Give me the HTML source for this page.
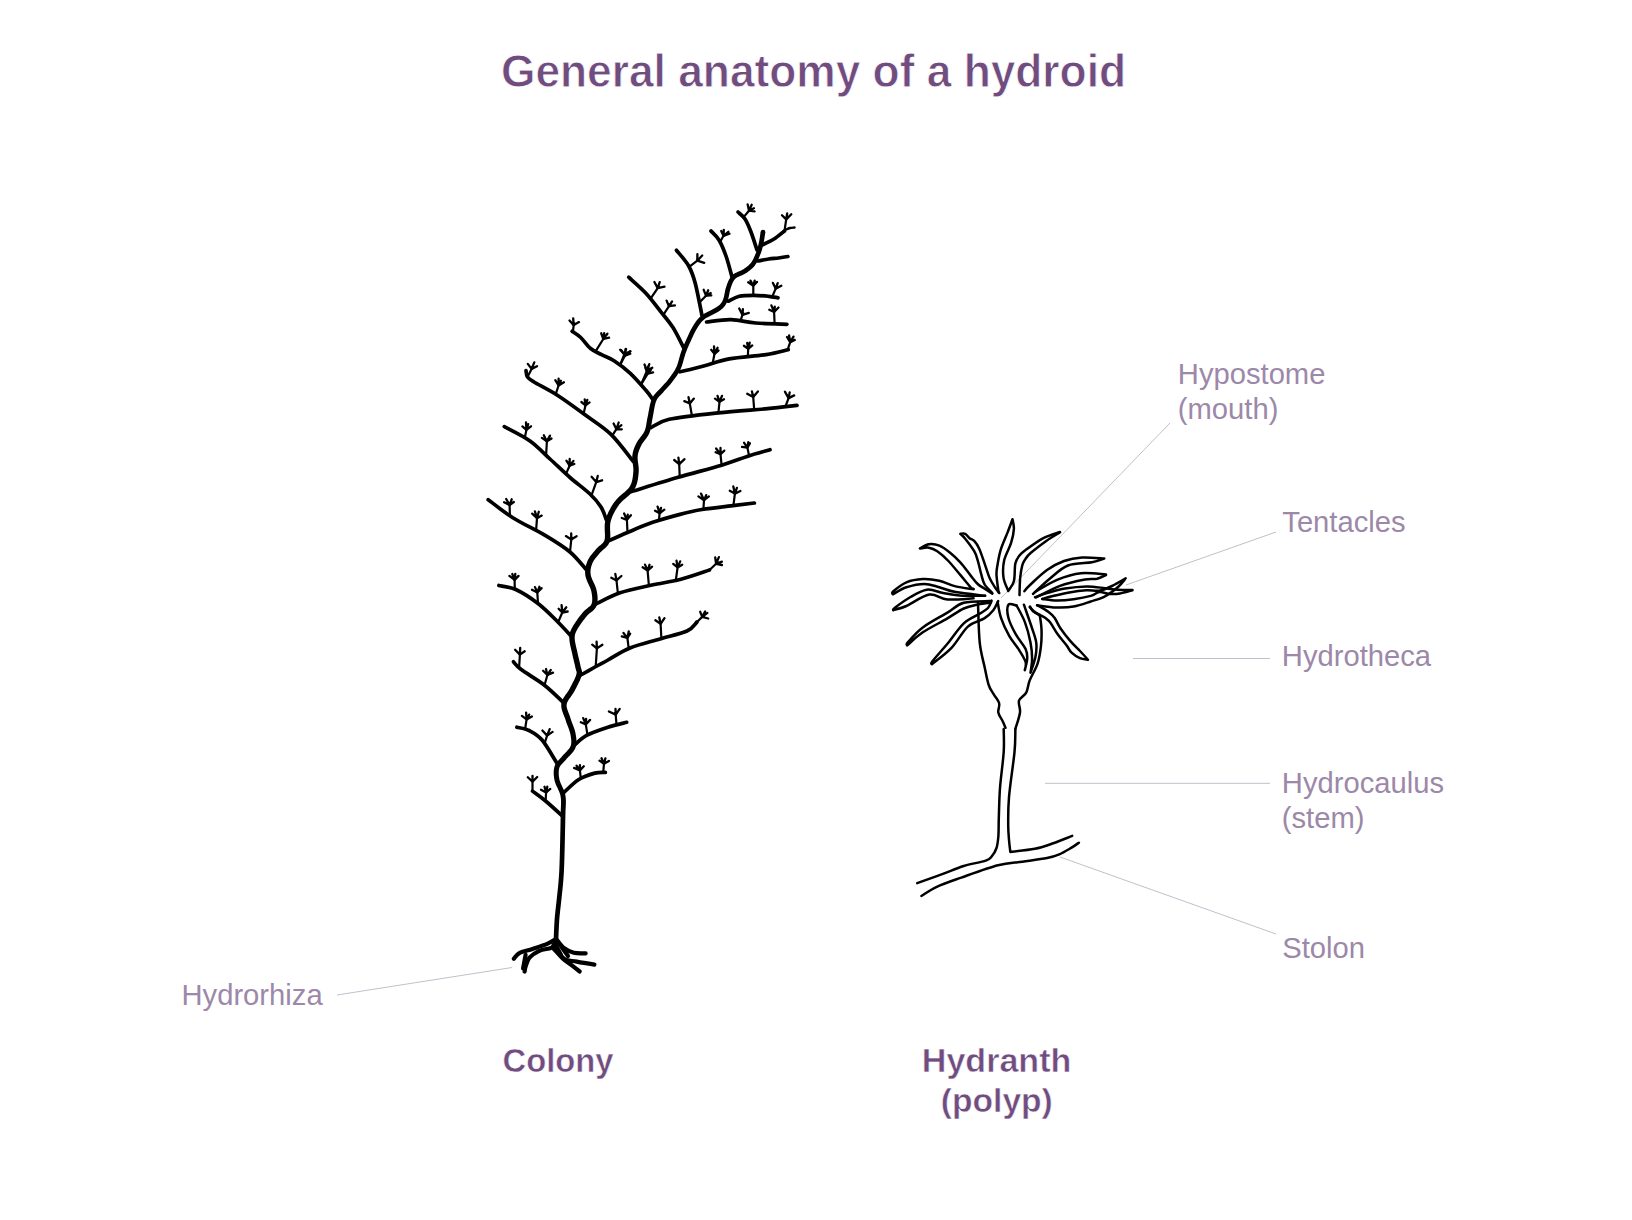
<!DOCTYPE html><html><head><meta charset="utf-8"><style>html,body{margin:0;padding:0;background:#fff;overflow:hidden}svg{display:block}</style></head><body>
<svg width="1632" height="1220" viewBox="0 0 1632 1220">
<rect width="100%" height="100%" fill="#fff"/>
<text x="501" y="87" font-family="Liberation Sans, sans-serif" font-weight="bold" font-size="45.5" fill="#704c7f" stroke="#fff" stroke-width="0.8" textLength="625" lengthAdjust="spacingAndGlyphs">General anatomy of a hydroid</text>
<text x="1177.8" y="383.8" font-family="Liberation Sans, sans-serif" font-size="29.2" fill="#9c88a8">Hypostome</text>
<text x="1177.8" y="418.8" font-family="Liberation Sans, sans-serif" font-size="29.2" fill="#9c88a8">(mouth)</text>
<text x="1282.3" y="531.8" font-family="Liberation Sans, sans-serif" font-size="29.2" fill="#9c88a8">Tentacles</text>
<text x="1281.8" y="666" font-family="Liberation Sans, sans-serif" font-size="29.2" fill="#9c88a8">Hydrotheca</text>
<text x="1281.8" y="792.8" font-family="Liberation Sans, sans-serif" font-size="29.2" fill="#9c88a8">Hydrocaulus</text>
<text x="1281.8" y="828" font-family="Liberation Sans, sans-serif" font-size="29.2" fill="#9c88a8">(stem)</text>
<text x="1282.3" y="957.8" font-family="Liberation Sans, sans-serif" font-size="29.2" fill="#9c88a8">Stolon</text>
<text x="181.5" y="1005" font-family="Liberation Sans, sans-serif" font-size="29.2" fill="#9c88a8">Hydrorhiza</text>
<text x="502.5" y="1072" font-family="Liberation Sans, sans-serif" font-weight="bold" font-size="34" fill="#704c7f" stroke="#fff" stroke-width="0.5" textLength="111" lengthAdjust="spacingAndGlyphs">Colony</text>
<text x="921.8" y="1072" font-family="Liberation Sans, sans-serif" font-weight="bold" font-size="34" fill="#704c7f" stroke="#fff" stroke-width="0.5" textLength="149.5" lengthAdjust="spacingAndGlyphs">Hydranth</text>
<text x="940.8" y="1111.5" font-family="Liberation Sans, sans-serif" font-weight="bold" font-size="34" fill="#704c7f" stroke="#fff" stroke-width="0.5" textLength="112" lengthAdjust="spacingAndGlyphs">(polyp)</text>
<line x1="1170" y1="423" x2="1001" y2="598" stroke="#c6bdcb" stroke-width="1"/>
<line x1="1276" y1="532" x2="1126" y2="585" stroke="#c6bdcb" stroke-width="1"/>
<line x1="1133" y1="658.5" x2="1270" y2="658.5" stroke="#c6bdcb" stroke-width="1"/>
<line x1="1045" y1="783.3" x2="1270" y2="783.3" stroke="#c6bdcb" stroke-width="1"/>
<line x1="1060" y1="857" x2="1276" y2="934" stroke="#c6bdcb" stroke-width="1"/>
<line x1="337" y1="995" x2="512" y2="967.5" stroke="#c6bdcb" stroke-width="1"/>
<path d="M760.68 231.63 L760.58 232.23 L760.47 232.98 L760.34 233.86 L760.19 234.84 L760.04 235.90 L759.87 237.02 L759.69 238.16 L759.50 239.32 L759.30 240.45 L759.10 241.54 L758.91 242.56 L758.71 243.49 L758.50 244.37 L758.30 245.22 L758.09 246.06 L757.88 246.88 L757.66 247.67 L757.43 248.46 L757.20 249.24 L756.95 250.01 L756.69 250.78 L756.42 251.55 L756.13 252.34 L755.81 253.14 L755.48 253.97 L755.14 254.82 L754.79 255.67 L754.43 256.52 L754.07 257.36 L753.69 258.19 L753.29 259.00 L752.89 259.78 L752.47 260.54 L752.04 261.26 L751.59 261.94 L751.13 262.58 L750.64 263.19 L750.12 263.79 L749.57 264.37 L749.00 264.93 L748.41 265.48 L747.79 266.02 L747.16 266.54 L746.50 267.06 L745.82 267.57 L745.13 268.06 L744.42 268.56 L743.72 269.03 L743.03 269.46 L742.29 269.87 L741.48 270.28 L740.62 270.68 L739.73 271.07 L738.82 271.47 L737.90 271.87 L736.99 272.27 L736.10 272.68 L735.24 273.11 L734.42 273.58 L733.66 274.07 L733.01 274.55 L732.44 275.02 L731.93 275.48 L731.46 275.96 L731.04 276.44 L730.67 276.92 L730.33 277.41 L730.02 277.90 L729.74 278.38 L729.47 278.87 L729.21 279.37 L728.92 279.90 L728.61 280.50 L728.31 281.12 L728.03 281.76 L727.75 282.41 L727.49 283.07 L727.23 283.76 L726.98 284.46 L726.73 285.18 L726.49 285.93 L726.25 286.70 L726.00 287.50 L725.74 288.35 L725.48 289.30 L725.24 290.31 L725.02 291.36 L724.82 292.42 L724.61 293.50 L724.40 294.57 L724.19 295.62 L723.96 296.64 L723.71 297.60 L723.45 298.50 L723.17 299.30 L722.86 300.02 L722.52 300.72 L722.18 301.38 L721.85 301.97 L721.52 302.50 L721.19 302.99 L720.83 303.45 L720.43 303.92 L719.97 304.39 L719.44 304.89 L718.83 305.42 L718.12 305.99 L717.32 306.59 L716.42 307.21 L715.36 307.86 L714.14 308.54 L712.80 309.24 L711.37 309.97 L709.90 310.71 L708.40 311.47 L706.91 312.24 L705.45 313.03 L704.06 313.84 L702.75 314.68 L701.56 315.54 L700.53 316.39 L699.60 317.22 L698.75 318.05 L697.97 318.88 L697.25 319.72 L696.58 320.57 L695.95 321.42 L695.35 322.29 L694.76 323.17 L694.19 324.07 L693.61 324.99 L693.00 325.97 L692.36 327.03 L691.72 328.16 L691.09 329.32 L690.48 330.52 L689.87 331.74 L689.28 332.97 L688.71 334.20 L688.14 335.42 L687.60 336.63 L687.07 337.80 L686.56 338.94 L686.06 340.03 L685.59 341.07 L685.13 342.07 L684.70 343.04 L684.28 343.99 L683.87 344.93 L683.47 345.87 L683.08 346.82 L682.69 347.78 L682.30 348.77 L681.90 349.80 L681.50 350.87 L681.08 352.02 L680.66 353.26 L680.26 354.55 L679.87 355.88 L679.50 357.24 L679.12 358.61 L678.75 359.98 L678.37 361.33 L677.97 362.67 L677.56 363.96 L677.12 365.21 L676.66 366.39 L676.17 367.50 L675.64 368.58 L675.06 369.66 L674.44 370.72 L673.78 371.77 L673.11 372.81 L672.41 373.83 L671.70 374.83 L670.98 375.81 L670.25 376.78 L669.53 377.73 L668.82 378.67 L668.13 379.56 L667.48 380.40 L666.84 381.17 L666.20 381.91 L665.55 382.63 L664.90 383.33 L664.25 384.03 L663.59 384.72 L662.92 385.42 L662.24 386.14 L661.56 386.88 L660.86 387.65 L660.19 388.43 L659.54 389.16 L658.89 389.85 L658.19 390.54 L657.47 391.26 L656.73 392.00 L655.97 392.79 L655.21 393.63 L654.46 394.54 L653.72 395.52 L653.02 396.60 L652.35 397.76 L651.75 399.04 L651.21 400.42 L650.73 401.88 L650.30 403.42 L649.92 405.01 L649.56 406.64 L649.24 408.29 L648.93 409.94 L648.64 411.57 L648.36 413.16 L648.08 414.69 L647.80 416.13 L647.51 417.49 L647.23 418.83 L646.98 420.15 L646.77 421.43 L646.58 422.65 L646.39 423.83 L646.21 424.96 L646.01 426.04 L645.80 427.09 L645.56 428.10 L645.29 429.08 L644.97 430.04 L644.60 430.97 L644.17 431.87 L643.66 432.77 L643.07 433.68 L642.42 434.61 L641.72 435.55 L640.97 436.51 L640.21 437.48 L639.44 438.48 L638.68 439.50 L637.94 440.56 L637.24 441.66 L636.63 442.77 L636.11 443.81 L635.62 444.81 L635.16 445.80 L634.71 446.80 L634.29 447.81 L633.90 448.84 L633.54 449.90 L633.21 450.98 L632.93 452.10 L632.68 453.26 L632.47 454.46 L632.31 455.75 L632.23 457.12 L632.24 458.53 L632.32 459.94 L632.47 461.34 L632.64 462.73 L632.82 464.11 L633.01 465.47 L633.17 466.81 L633.29 468.11 L633.37 469.38 L633.38 470.59 L633.31 471.80 L633.19 473.09 L633.06 474.41 L632.93 475.72 L632.77 477.01 L632.58 478.28 L632.35 479.53 L632.08 480.75 L631.75 481.96 L631.36 483.14 L630.89 484.31 L630.34 485.45 L629.71 486.56 L628.97 487.63 L628.06 488.71 L626.99 489.83 L625.77 490.97 L624.46 492.13 L623.06 493.32 L621.63 494.54 L620.17 495.79 L618.74 497.10 L617.34 498.46 L616.02 499.89 L614.84 501.38 L613.79 502.85 L612.80 504.32 L611.85 505.82 L610.93 507.34 L610.05 508.89 L609.22 510.46 L608.44 512.05 L607.71 513.67 L607.03 515.30 L606.42 516.96 L605.87 518.63 L605.38 520.36 L605.00 522.20 L604.77 524.11 L604.68 526.02 L604.67 527.92 L604.72 529.79 L604.80 531.62 L604.88 533.37 L604.93 535.04 L604.93 536.58 L604.85 537.97 L604.69 539.16 L604.43 540.17 L604.08 541.03 L603.66 541.81 L603.15 542.53 L602.57 543.20 L601.91 543.86 L601.18 544.51 L600.38 545.18 L599.52 545.87 L598.62 546.60 L597.70 547.41 L596.79 548.30 L595.95 549.25 L595.21 550.15 L594.48 551.01 L593.73 551.88 L592.97 552.78 L592.21 553.70 L591.45 554.64 L590.70 555.60 L589.97 556.60 L589.28 557.63 L588.63 558.70 L588.04 559.81 L587.52 560.94 L587.08 562.04 L586.68 563.13 L586.31 564.24 L585.98 565.38 L585.70 566.54 L585.47 567.72 L585.28 568.93 L585.16 570.17 L585.10 571.43 L585.10 572.72 L585.18 574.03 L585.33 575.41 L585.61 576.87 L586.04 578.35 L586.56 579.80 L587.15 581.24 L587.78 582.67 L588.43 584.07 L589.07 585.45 L589.68 586.80 L590.23 588.09 L590.71 589.32 L591.09 590.48 L591.36 591.58 L591.58 592.73 L591.78 593.93 L591.96 595.11 L592.09 596.27 L592.19 597.40 L592.24 598.51 L592.24 599.57 L592.20 600.58 L592.10 601.54 L591.95 602.43 L591.74 603.26 L591.50 603.99 L591.21 604.59 L590.86 605.13 L590.41 605.66 L589.86 606.21 L589.21 606.78 L588.46 607.37 L587.64 608.00 L586.74 608.69 L585.80 609.44 L584.84 610.28 L583.87 611.22 L582.95 612.25 L582.08 613.31 L581.19 614.41 L580.27 615.59 L579.33 616.81 L578.38 618.07 L577.44 619.35 L576.52 620.64 L575.62 621.92 L574.78 623.18 L573.99 624.40 L573.27 625.59 L572.64 626.69 L572.10 627.68 L571.63 628.59 L571.19 629.46 L570.79 630.31 L570.43 631.17 L570.12 632.03 L569.86 632.93 L569.65 633.85 L569.49 634.81 L569.38 635.81 L569.32 636.87 L569.30 638.03 L569.35 639.31 L569.47 640.66 L569.66 642.05 L569.90 643.48 L570.18 644.93 L570.49 646.39 L570.81 647.84 L571.15 649.28 L571.48 650.69 L571.80 652.05 L572.10 653.34 L572.36 654.57 L572.62 655.78 L572.89 657.00 L573.17 658.20 L573.45 659.37 L573.73 660.52 L574.00 661.64 L574.27 662.73 L574.52 663.78 L574.76 664.78 L574.98 665.74 L575.18 666.65 L575.36 667.55 L575.56 668.46 L575.78 669.30 L576.01 670.02 L576.22 670.64 L576.39 671.15 L576.51 671.56 L576.60 671.92 L576.64 672.24 L576.66 672.60 L576.63 673.04 L576.55 673.60 L576.39 674.31 L576.13 675.17 L575.78 676.15 L575.35 677.24 L574.83 678.41 L574.26 679.65 L573.64 680.93 L572.98 682.25 L572.30 683.58 L571.61 684.91 L570.92 686.22 L570.25 687.51 L569.62 688.72 L569.01 689.82 L568.33 690.90 L567.58 692.00 L566.77 693.13 L565.94 694.28 L565.10 695.46 L564.27 696.67 L563.49 697.93 L562.77 699.24 L562.14 700.63 L561.65 702.09 L561.34 703.63 L561.22 705.17 L561.29 706.68 L561.50 708.15 L561.81 709.58 L562.21 710.97 L562.67 712.33 L563.16 713.65 L563.67 714.94 L564.17 716.20 L564.65 717.42 L565.09 718.61 L565.48 719.81 L565.89 721.09 L566.34 722.40 L566.82 723.71 L567.31 725.01 L567.81 726.29 L568.29 727.55 L568.75 728.79 L569.19 730.00 L569.58 731.18 L569.93 732.32 L570.21 733.41 L570.44 734.49 L570.64 735.60 L570.82 736.71 L570.99 737.79 L571.12 738.84 L571.22 739.86 L571.29 740.85 L571.30 741.80 L571.27 742.72 L571.19 743.60 L571.05 744.46 L570.85 745.29 L570.60 746.07 L570.27 746.83 L569.82 747.61 L569.27 748.42 L568.61 749.26 L567.87 750.12 L567.07 751.00 L566.23 751.88 L565.36 752.77 L564.49 753.66 L563.63 754.56 L562.80 755.48 L562.05 756.36 L561.41 757.14 L560.77 757.84 L560.12 758.54 L559.44 759.23 L558.76 759.93 L558.07 760.66 L557.39 761.43 L556.73 762.24 L556.10 763.12 L555.53 764.08 L555.02 765.12 L554.61 766.21 L554.29 767.32 L554.05 768.44 L553.88 769.57 L553.76 770.73 L553.70 771.90 L553.68 773.09 L553.72 774.29 L553.81 775.51 L553.94 776.74 L554.11 777.98 L554.32 779.24 L554.58 780.54 L554.93 781.92 L555.40 783.30 L555.94 784.65 L556.53 785.98 L557.15 787.30 L557.77 788.61 L558.38 789.91 L558.96 791.21 L559.48 792.51 L559.94 793.81 L560.32 795.10 L560.60 796.43 L560.80 797.76 L560.93 799.03 L561.02 800.27 L561.05 801.51 L561.05 802.80 L561.02 804.17 L560.96 805.65 L560.89 807.29 L560.81 809.11 L560.73 811.14 L560.66 813.42 L560.61 815.95 L560.57 818.86 L560.52 822.18 L560.46 825.83 L560.39 829.73 L560.30 833.80 L560.21 837.95 L560.12 842.10 L560.02 846.17 L559.92 850.07 L559.83 853.71 L559.74 857.03 L559.65 859.93 L559.57 862.43 L559.50 864.64 L559.43 866.60 L559.36 868.35 L559.29 869.93 L559.22 871.38 L559.14 872.75 L559.06 874.08 L558.98 875.40 L558.88 876.78 L558.77 878.24 L558.66 879.82 L558.53 881.48 L558.38 883.14 L558.23 884.80 L558.07 886.47 L557.90 888.14 L557.73 889.82 L557.55 891.49 L557.37 893.15 L557.19 894.82 L557.01 896.47 L556.83 898.12 L556.66 899.76 L556.49 901.36 L556.32 902.95 L556.14 904.53 L555.96 906.10 L555.78 907.67 L555.60 909.24 L555.43 910.81 L555.26 912.38 L555.09 913.97 L554.94 915.57 L554.79 917.18 L554.66 918.82 L554.53 920.54 L554.42 922.37 L554.31 924.27 L554.21 926.22 L554.11 928.17 L554.03 930.08 L553.95 931.93 L553.87 933.68 L553.81 935.29 L553.75 936.71 L553.70 937.93 L553.65 938.89 L558.35 939.11 L558.39 938.13 L558.45 936.91 L558.50 935.48 L558.57 933.88 L558.64 932.13 L558.72 930.29 L558.81 928.39 L558.90 926.45 L559.00 924.53 L559.11 922.65 L559.22 920.85 L559.34 919.18 L559.47 917.59 L559.62 916.01 L559.77 914.44 L559.93 912.88 L560.10 911.32 L560.27 909.76 L560.45 908.20 L560.63 906.64 L560.81 905.06 L560.99 903.47 L561.17 901.87 L561.34 900.24 L561.51 898.61 L561.68 896.98 L561.86 895.32 L562.04 893.66 L562.22 891.99 L562.40 890.31 L562.58 888.62 L562.75 886.94 L562.91 885.24 L563.07 883.55 L563.21 881.86 L563.34 880.18 L563.46 878.58 L563.57 877.11 L563.67 875.72 L563.75 874.37 L563.83 873.02 L563.91 871.62 L563.98 870.14 L564.05 868.54 L564.12 866.78 L564.19 864.80 L564.27 862.58 L564.35 860.07 L564.44 857.16 L564.53 853.84 L564.62 850.18 L564.72 846.28 L564.82 842.21 L564.91 838.05 L565.00 833.90 L565.09 829.83 L565.18 825.92 L565.26 822.27 L565.33 818.94 L565.39 816.05 L565.45 813.54 L565.53 811.32 L565.61 809.32 L565.70 807.52 L565.79 805.87 L565.86 804.33 L565.90 802.87 L565.91 801.45 L565.87 800.04 L565.78 798.62 L565.63 797.14 L565.40 795.57 L565.07 793.93 L564.61 792.33 L564.08 790.79 L563.49 789.30 L562.86 787.88 L562.23 786.51 L561.61 785.20 L561.03 783.94 L560.50 782.74 L560.05 781.59 L559.69 780.51 L559.42 779.46 L559.22 778.36 L559.04 777.24 L558.89 776.15 L558.78 775.08 L558.72 774.05 L558.69 773.04 L558.70 772.07 L558.76 771.13 L558.86 770.23 L559.00 769.36 L559.18 768.54 L559.39 767.79 L559.65 767.12 L559.95 766.51 L560.32 765.91 L560.75 765.31 L561.24 764.71 L561.80 764.09 L562.41 763.45 L563.07 762.77 L563.77 762.06 L564.50 761.29 L565.24 760.47 L565.95 759.64 L566.62 758.84 L567.35 758.05 L568.15 757.21 L569.01 756.34 L569.90 755.44 L570.80 754.50 L571.70 753.53 L572.57 752.51 L573.41 751.45 L574.17 750.34 L574.85 749.16 L575.40 747.93 L575.81 746.70 L576.11 745.49 L576.31 744.27 L576.43 743.06 L576.48 741.85 L576.46 740.65 L576.40 739.46 L576.28 738.27 L576.14 737.08 L575.96 735.90 L575.77 734.72 L575.56 733.51 L575.30 732.23 L574.96 730.91 L574.58 729.60 L574.15 728.30 L573.69 727.00 L573.21 725.70 L572.72 724.41 L572.24 723.14 L571.77 721.88 L571.32 720.64 L570.91 719.43 L570.52 718.19 L570.10 716.88 L569.62 715.56 L569.12 714.26 L568.63 712.99 L568.15 711.75 L567.70 710.55 L567.32 709.39 L567.00 708.27 L566.77 707.21 L566.63 706.20 L566.60 705.26 L566.66 704.37 L566.85 703.51 L567.16 702.61 L567.59 701.66 L568.14 700.66 L568.79 699.62 L569.53 698.54 L570.32 697.43 L571.15 696.28 L572.00 695.09 L572.84 693.86 L573.65 692.58 L574.38 691.28 L575.04 690.01 L575.71 688.73 L576.40 687.40 L577.10 686.05 L577.80 684.68 L578.49 683.32 L579.14 681.96 L579.76 680.63 L580.33 679.33 L580.83 678.07 L581.27 676.85 L581.61 675.69 L581.86 674.61 L582.00 673.60 L582.06 672.65 L582.02 671.76 L581.91 670.93 L581.74 670.19 L581.54 669.52 L581.34 668.92 L581.15 668.35 L580.97 667.79 L580.80 667.18 L580.64 666.45 L580.46 665.55 L580.25 664.57 L580.02 663.56 L579.77 662.52 L579.52 661.45 L579.25 660.36 L578.97 659.24 L578.70 658.11 L578.43 656.96 L578.16 655.80 L577.89 654.63 L577.64 653.43 L577.37 652.17 L577.06 650.83 L576.74 649.45 L576.41 648.05 L576.08 646.64 L575.76 645.24 L575.47 643.86 L575.21 642.52 L575.00 641.24 L574.84 640.05 L574.73 638.96 L574.70 637.97 L574.72 637.07 L574.76 636.25 L574.84 635.53 L574.95 634.89 L575.08 634.29 L575.25 633.72 L575.47 633.13 L575.73 632.50 L576.05 631.82 L576.43 631.07 L576.87 630.22 L577.36 629.31 L577.92 628.33 L578.56 627.28 L579.29 626.15 L580.08 624.97 L580.93 623.76 L581.81 622.53 L582.72 621.29 L583.63 620.08 L584.54 618.90 L585.43 617.77 L586.28 616.70 L587.05 615.75 L587.76 614.96 L588.49 614.26 L589.26 613.59 L590.07 612.94 L590.92 612.29 L591.79 611.63 L592.67 610.93 L593.54 610.16 L594.40 609.31 L595.21 608.33 L595.93 607.23 L596.50 606.01 L596.93 604.77 L597.23 603.53 L597.45 602.26 L597.58 600.98 L597.64 599.68 L597.64 598.37 L597.58 597.05 L597.46 595.73 L597.31 594.41 L597.12 593.09 L596.90 591.77 L596.64 590.42 L596.28 588.98 L595.80 587.51 L595.23 586.05 L594.62 584.61 L593.97 583.19 L593.32 581.80 L592.70 580.44 L592.11 579.13 L591.60 577.87 L591.18 576.69 L590.86 575.60 L590.67 574.59 L590.56 573.58 L590.50 572.55 L590.50 571.55 L590.54 570.57 L590.64 569.60 L590.78 568.65 L590.97 567.71 L591.20 566.77 L591.47 565.83 L591.78 564.90 L592.12 563.97 L592.48 563.06 L592.87 562.21 L593.32 561.38 L593.83 560.54 L594.40 559.70 L595.02 558.84 L595.68 557.99 L596.38 557.13 L597.10 556.26 L597.85 555.38 L598.60 554.50 L599.35 553.60 L600.05 552.75 L600.69 552.03 L601.36 551.38 L602.11 550.72 L602.92 550.06 L603.79 549.36 L604.70 548.61 L605.62 547.79 L606.54 546.87 L607.42 545.83 L608.25 544.66 L608.97 543.33 L609.57 541.83 L609.99 540.19 L610.22 538.48 L610.32 536.73 L610.33 534.96 L610.28 533.17 L610.20 531.38 L610.12 529.60 L610.07 527.85 L610.07 526.16 L610.15 524.56 L610.33 523.06 L610.62 521.64 L611.03 520.21 L611.52 518.74 L612.06 517.27 L612.66 515.81 L613.32 514.36 L614.03 512.91 L614.79 511.48 L615.59 510.07 L616.43 508.67 L617.32 507.29 L618.23 505.92 L619.16 504.62 L620.13 503.40 L621.22 502.22 L622.44 501.03 L623.75 499.84 L625.14 498.64 L626.56 497.43 L628.00 496.21 L629.41 494.96 L630.78 493.67 L632.07 492.33 L633.26 490.92 L634.29 489.44 L635.13 487.95 L635.83 486.48 L636.43 485.00 L636.92 483.52 L637.32 482.06 L637.65 480.60 L637.91 479.16 L638.12 477.73 L638.29 476.33 L638.44 474.95 L638.57 473.59 L638.69 472.20 L638.78 470.72 L638.76 469.20 L638.68 467.70 L638.54 466.23 L638.36 464.79 L638.18 463.39 L637.99 462.04 L637.83 460.74 L637.71 459.50 L637.63 458.34 L637.62 457.27 L637.69 456.25 L637.82 455.26 L637.98 454.28 L638.18 453.33 L638.42 452.42 L638.68 451.54 L638.98 450.66 L639.30 449.78 L639.66 448.91 L640.05 448.01 L640.47 447.10 L640.91 446.16 L641.37 445.23 L641.84 444.35 L642.38 443.49 L642.99 442.59 L643.67 441.67 L644.40 440.72 L645.15 439.74 L645.92 438.73 L646.69 437.68 L647.44 436.60 L648.16 435.46 L648.82 434.27 L649.40 433.03 L649.87 431.79 L650.27 430.58 L650.59 429.37 L650.86 428.17 L651.09 426.98 L651.29 425.79 L651.47 424.61 L651.65 423.42 L651.82 422.23 L652.02 421.02 L652.23 419.80 L652.49 418.51 L652.77 417.10 L653.05 415.59 L653.32 414.03 L653.58 412.43 L653.86 410.82 L654.14 409.21 L654.44 407.63 L654.75 406.10 L655.09 404.64 L655.45 403.28 L655.84 402.05 L656.25 400.96 L656.70 400.00 L657.19 399.12 L657.72 398.31 L658.28 397.54 L658.89 396.80 L659.53 396.08 L660.20 395.38 L660.90 394.67 L661.62 393.94 L662.35 393.19 L663.10 392.39 L663.81 391.57 L664.47 390.81 L665.10 390.09 L665.74 389.39 L666.39 388.69 L667.05 387.99 L667.71 387.29 L668.39 386.56 L669.07 385.81 L669.76 385.03 L670.46 384.21 L671.17 383.34 L671.87 382.44 L672.56 381.52 L673.28 380.58 L674.01 379.61 L674.76 378.61 L675.51 377.58 L676.27 376.51 L677.01 375.42 L677.75 374.30 L678.46 373.14 L679.15 371.96 L679.81 370.75 L680.43 369.50 L681.00 368.19 L681.53 366.84 L682.01 365.45 L682.46 364.05 L682.88 362.64 L683.28 361.24 L683.66 359.85 L684.03 358.49 L684.40 357.17 L684.76 355.90 L685.13 354.71 L685.52 353.58 L685.91 352.50 L686.30 351.46 L686.68 350.47 L687.05 349.52 L687.43 348.60 L687.80 347.69 L688.19 346.79 L688.58 345.88 L688.99 344.95 L689.42 344.00 L689.87 343.01 L690.34 341.97 L690.84 340.88 L691.35 339.74 L691.88 338.57 L692.42 337.38 L692.97 336.18 L693.53 334.98 L694.10 333.80 L694.67 332.64 L695.25 331.51 L695.83 330.43 L696.41 329.40 L697.00 328.43 L697.59 327.49 L698.16 326.58 L698.71 325.73 L699.24 324.92 L699.77 324.15 L700.31 323.42 L700.87 322.71 L701.47 322.02 L702.11 321.34 L702.81 320.65 L703.59 319.96 L704.44 319.26 L705.39 318.57 L706.50 317.86 L707.75 317.13 L709.11 316.39 L710.54 315.65 L712.01 314.90 L713.49 314.16 L714.96 313.42 L716.37 312.67 L717.72 311.92 L718.97 311.17 L720.08 310.41 L721.01 309.69 L721.84 309.03 L722.59 308.38 L723.27 307.74 L723.89 307.09 L724.46 306.43 L724.98 305.76 L725.46 305.07 L725.90 304.35 L726.32 303.61 L726.72 302.83 L727.14 301.98 L727.56 300.99 L727.93 299.93 L728.25 298.84 L728.53 297.73 L728.78 296.61 L729.01 295.49 L729.22 294.39 L729.43 293.32 L729.63 292.29 L729.83 291.33 L730.04 290.45 L730.26 289.65 L730.49 288.87 L730.73 288.10 L730.96 287.37 L731.19 286.67 L731.42 286.00 L731.64 285.37 L731.87 284.76 L732.10 284.19 L732.33 283.64 L732.57 283.11 L732.82 282.60 L733.08 282.10 L733.35 281.59 L733.60 281.11 L733.84 280.69 L734.05 280.32 L734.26 280.00 L734.46 279.70 L734.67 279.42 L734.91 279.15 L735.18 278.88 L735.51 278.58 L735.90 278.26 L736.34 277.93 L736.84 277.60 L737.44 277.27 L738.15 276.91 L738.93 276.55 L739.79 276.17 L740.68 275.78 L741.62 275.38 L742.57 274.95 L743.52 274.51 L744.47 274.03 L745.41 273.51 L746.28 272.97 L747.07 272.44 L747.84 271.90 L748.60 271.36 L749.35 270.79 L750.10 270.21 L750.83 269.61 L751.55 268.98 L752.25 268.33 L752.94 267.65 L753.61 266.94 L754.25 266.20 L754.87 265.42 L755.46 264.61 L756.02 263.76 L756.54 262.88 L757.04 262.00 L757.50 261.10 L757.94 260.19 L758.36 259.28 L758.75 258.37 L759.13 257.47 L759.49 256.59 L759.84 255.72 L760.19 254.86 L760.52 254.01 L760.84 253.16 L761.14 252.31 L761.42 251.47 L761.69 250.63 L761.94 249.79 L762.18 248.94 L762.42 248.09 L762.64 247.22 L762.86 246.34 L763.08 245.44 L763.29 244.51 L763.51 243.50 L763.72 242.41 L763.93 241.27 L764.13 240.09 L764.33 238.91 L764.51 237.73 L764.68 236.60 L764.84 235.53 L764.99 234.55 L765.12 233.68 L765.23 232.95 L765.32 232.37Z" fill="#000"/>
<circle cx="763.0" cy="232.0" r="2.35"/>
<circle cx="556.0" cy="939.0" r="2.35"/>
<path d="M738.0 212.0C739.2 213.2 742.8 215.7 745.0 219.0C747.2 222.3 749.0 226.8 751.0 232.0C753.0 237.2 756.0 247.0 757.0 250.0" fill="none" stroke="#000" stroke-width="3.7" stroke-linecap="round" stroke-linejoin="round"/>
<path d="M711.0 231.0C712.3 232.5 716.5 235.8 719.0 240.0C721.5 244.2 723.8 249.8 726.0 256.0C728.2 262.2 731.0 273.5 732.0 277.0" fill="none" stroke="#000" stroke-width="3.7" stroke-linecap="round" stroke-linejoin="round"/>
<path d="M676.5 250.3C678.5 252.9 685.6 260.5 688.7 266.0C691.8 271.5 693.1 275.2 695.3 283.5C697.5 291.8 700.9 310.2 702.0 315.6" fill="none" stroke="#000" stroke-width="3.7" stroke-linecap="round" stroke-linejoin="round"/>
<path d="M628.7 277.2C631.6 279.9 640.6 287.5 645.9 293.2C651.2 298.9 656.2 305.9 660.7 311.6C665.2 317.3 669.1 321.5 673.0 327.6C676.9 333.8 682.2 345.0 684.0 348.5" fill="none" stroke="#000" stroke-width="3.7" stroke-linecap="round" stroke-linejoin="round"/>
<path d="M572.1 331.3C573.5 332.3 577.6 334.6 580.7 337.5C583.8 340.4 587.1 345.6 590.6 348.5C594.1 351.4 597.7 352.6 601.6 354.7C605.5 356.8 609.3 357.7 614.0 360.8C618.7 363.9 624.7 368.2 630.0 373.1C635.3 378.0 642.0 385.8 645.9 390.3C649.8 394.8 652.1 398.6 653.3 400.2" fill="none" stroke="#000" stroke-width="3.7" stroke-linecap="round" stroke-linejoin="round"/>
<path d="M526.0 370.5C526.2 371.6 526.2 375.1 527.5 377.0C528.8 378.9 529.1 379.0 534.0 382.0C538.9 385.0 548.5 389.5 557.0 395.0C565.5 400.5 576.0 408.2 585.0 414.8C594.0 421.4 603.0 426.6 611.0 434.4C619.0 442.2 629.6 457.0 633.3 461.5" fill="none" stroke="#000" stroke-width="3.7" stroke-linecap="round" stroke-linejoin="round"/>
<path d="M504.3 426.7C508.6 429.1 522.4 435.6 530.0 441.0C537.6 446.4 543.3 452.9 550.0 459.0C556.7 465.1 563.3 471.7 570.0 477.5C576.7 483.3 584.8 489.1 590.0 494.0C595.2 498.9 598.3 502.7 601.0 507.0C603.7 511.3 605.5 517.7 606.4 519.8" fill="none" stroke="#000" stroke-width="3.7" stroke-linecap="round" stroke-linejoin="round"/>
<path d="M488.2 499.7C492.3 502.7 503.2 511.7 512.8 517.7C522.4 523.7 536.1 530.0 545.6 535.7C555.1 541.4 563.2 546.3 570.0 552.0C576.8 557.7 583.8 567.0 586.6 570.0" fill="none" stroke="#000" stroke-width="3.7" stroke-linecap="round" stroke-linejoin="round"/>
<path d="M498.9 585.5C501.7 586.2 509.3 586.5 515.8 589.5C522.3 592.5 531.2 598.3 538.0 603.5C544.8 608.7 550.8 615.0 556.4 620.5C562.0 626.0 569.0 633.8 571.5 636.5" fill="none" stroke="#000" stroke-width="3.7" stroke-linecap="round" stroke-linejoin="round"/>
<path d="M513.4 661.8C514.7 663.1 516.0 665.7 521.2 669.6C526.4 673.5 537.5 679.8 544.5 685.2C551.5 690.7 560.1 699.4 563.2 702.3" fill="none" stroke="#000" stroke-width="3.7" stroke-linecap="round" stroke-linejoin="round"/>
<path d="M516.9 727.2C519.0 727.8 525.0 728.3 529.2 730.5C533.4 732.7 537.7 734.8 542.3 740.3C546.9 745.8 554.5 759.5 557.0 763.3" fill="none" stroke="#000" stroke-width="3.7" stroke-linecap="round" stroke-linejoin="round"/>
<path d="M532.5 791.1C534.7 792.8 540.7 796.9 545.6 801.0C550.5 805.1 559.3 813.2 562.0 815.7" fill="none" stroke="#000" stroke-width="3.7" stroke-linecap="round" stroke-linejoin="round"/>
<path d="M762.0 245.0C763.9 244.1 769.9 241.6 773.6 239.3C777.4 237.0 782.7 232.4 784.5 231.0" fill="none" stroke="#000" stroke-width="3.7" stroke-linecap="round" stroke-linejoin="round"/>
<path d="M758.0 261.0C759.8 260.7 765.3 259.5 768.7 259.0C772.1 258.5 775.3 258.4 778.5 258.0C781.7 257.6 786.3 256.8 787.9 256.5" fill="none" stroke="#000" stroke-width="3.7" stroke-linecap="round" stroke-linejoin="round"/>
<path d="M728.4 301.2C730.2 300.4 734.9 297.3 739.2 296.3C743.5 295.3 749.1 295.3 754.0 295.3C758.9 295.3 764.7 295.9 768.7 296.3C772.7 296.7 776.5 297.6 778.0 297.8" fill="none" stroke="#000" stroke-width="3.7" stroke-linecap="round" stroke-linejoin="round"/>
<path d="M706.6 322.0C710.7 321.6 722.8 319.5 731.0 319.7C739.2 319.9 746.4 322.2 755.7 323.0C765.0 323.8 781.7 324.1 786.9 324.3" fill="none" stroke="#000" stroke-width="3.7" stroke-linecap="round" stroke-linejoin="round"/>
<path d="M680.0 371.8C684.1 370.8 696.4 367.9 704.6 365.7C712.8 363.5 719.0 360.8 729.2 358.9C739.5 357.0 756.3 356.1 766.1 354.6C775.9 353.1 784.5 350.5 788.2 349.7" fill="none" stroke="#000" stroke-width="3.7" stroke-linecap="round" stroke-linejoin="round"/>
<path d="M651.0 427.5C654.0 426.1 658.0 421.8 669.2 419.3C680.4 416.9 702.0 414.6 718.4 412.8C734.8 411.0 754.4 409.9 767.5 408.7C780.6 407.5 792.1 405.9 797.0 405.4" fill="none" stroke="#000" stroke-width="3.7" stroke-linecap="round" stroke-linejoin="round"/>
<path d="M631.5 491.5C639.1 489.2 662.4 481.9 677.4 477.5C692.4 473.1 709.9 468.8 721.6 465.2C733.4 461.6 739.8 458.8 747.9 456.2C756.0 453.6 766.3 450.8 770.0 449.7" fill="none" stroke="#000" stroke-width="3.7" stroke-linecap="round" stroke-linejoin="round"/>
<path d="M608.0 541.0C611.2 539.6 620.2 535.6 627.5 532.5C634.8 529.4 643.2 525.6 652.0 522.6C660.8 519.6 671.7 516.6 680.0 514.4C688.3 512.2 692.9 511.0 702.0 509.5C711.1 508.0 726.1 506.5 734.8 505.4C743.5 504.3 751.1 503.4 754.4 503.0" fill="none" stroke="#000" stroke-width="3.7" stroke-linecap="round" stroke-linejoin="round"/>
<path d="M594.8 604.6C598.9 602.7 609.8 596.3 619.3 593.0C628.8 589.7 641.9 587.2 652.0 585.0C662.1 582.8 670.4 582.0 680.0 579.5C689.6 577.0 704.6 571.6 709.5 570.0" fill="none" stroke="#000" stroke-width="3.7" stroke-linecap="round" stroke-linejoin="round"/>
<path d="M579.0 676.0C581.7 674.5 590.2 669.7 595.0 667.0C599.8 664.3 602.2 663.2 608.0 660.0C613.8 656.8 621.3 651.5 630.0 648.0C638.7 644.5 650.5 641.8 660.0 639.0C669.5 636.2 680.8 633.8 687.0 631.0C693.2 628.2 695.3 623.5 697.0 622.0" fill="none" stroke="#000" stroke-width="3.7" stroke-linecap="round" stroke-linejoin="round"/>
<path d="M574.3 745.2C576.3 743.6 581.0 738.4 586.6 735.4C592.2 732.4 601.2 729.4 607.9 727.2C614.6 725.0 623.6 723.1 626.7 722.3" fill="none" stroke="#000" stroke-width="3.7" stroke-linecap="round" stroke-linejoin="round"/>
<path d="M563.6 792.8C566.1 790.6 573.2 783.0 578.4 779.7C583.6 776.4 590.3 774.3 594.8 773.1C599.3 771.9 603.6 772.4 605.4 772.3" fill="none" stroke="#000" stroke-width="3.7" stroke-linecap="round" stroke-linejoin="round"/>
<path d="M785.0 230.0C785.8 229.7 788.4 228.4 790.0 228.0C791.6 227.6 793.8 227.6 794.5 227.5" fill="none" stroke="#000" stroke-width="2.4" stroke-linecap="round" stroke-linejoin="round"/>
<path d="M556.0 939.0C554.5 939.8 551.1 942.2 547.2 943.9C543.3 945.5 537.1 947.4 532.5 948.9C527.9 950.4 522.8 951.2 519.7 952.8C516.6 954.4 514.8 957.7 513.8 958.7" fill="none" stroke="#000" stroke-width="4.2" stroke-linecap="round" stroke-linejoin="round"/>
<path d="M554.0 944.0C553.5 944.6 553.6 946.8 551.1 947.9C548.6 949.0 542.9 949.2 539.3 950.8C535.7 952.4 531.8 955.1 529.5 957.7C527.2 960.3 526.4 964.3 525.6 966.6C524.8 968.9 524.8 970.7 524.6 971.5" fill="none" stroke="#000" stroke-width="4.2" stroke-linecap="round" stroke-linejoin="round"/>
<path d="M525.6 954.8L523.1 968.5" fill="none" stroke="#000" stroke-width="4.2" stroke-linecap="round" stroke-linejoin="round"/>
<path d="M557.0 940.0C558.1 941.3 561.1 945.8 563.9 947.9C566.7 950.0 570.2 951.9 573.8 952.8C577.4 953.7 583.6 953.2 585.6 953.3" fill="none" stroke="#000" stroke-width="4.2" stroke-linecap="round" stroke-linejoin="round"/>
<path d="M555.0 946.0C556.5 948.1 560.3 956.1 563.9 958.7C567.5 961.3 571.6 960.6 576.7 961.6C581.8 962.6 591.5 964.1 594.4 964.6" fill="none" stroke="#000" stroke-width="4.2" stroke-linecap="round" stroke-linejoin="round"/>
<path d="M553.1 948.0C554.8 949.8 560.0 955.9 563.0 958.7C566.0 961.5 568.0 962.5 570.8 964.6C573.6 966.7 578.2 970.4 579.7 971.5" fill="none" stroke="#000" stroke-width="4.2" stroke-linecap="round" stroke-linejoin="round"/>
<path d="M554.0 942.0L561.0 955.0" fill="none" stroke="#000" stroke-width="4.2" stroke-linecap="round" stroke-linejoin="round"/>
<path d="M558.0 942.0L568.0 956.0" fill="none" stroke="#000" stroke-width="4.2" stroke-linecap="round" stroke-linejoin="round"/>
<path d="M743.6 217.1L749.0 210.7" stroke="#000" stroke-width="2.2" stroke-linecap="round" fill="none"/>
<path d="M749.0 210.7l-1.4 -6.4M749.0 210.7l2.7 -6.0M749.0 210.7l4.9 -2.5M749.0 210.7l5.6 0.6" stroke="#000" stroke-width="2.3" stroke-linecap="round" fill="none"/>
<circle cx="749.8" cy="209.8" r="1.8"/>
<path d="M720.1 242.0L723.5 235.8" stroke="#000" stroke-width="2.2" stroke-linecap="round" fill="none"/>
<path d="M723.5 235.8l-2.3 -4.8M723.5 235.8l0.3 -5.9M723.5 235.8l4.8 -4.0M723.5 235.8l6.0 -2.2" stroke="#000" stroke-width="2.3" stroke-linecap="round" fill="none"/>
<circle cx="724.1" cy="234.8" r="1.8"/>
<path d="M753.3 295.3L753.3 285.7" stroke="#000" stroke-width="2.2" stroke-linecap="round" fill="none"/>
<path d="M753.3 285.7l-5.1 -3.4M753.3 285.7l-2.8 -5.1M753.3 285.7l1.4 -5.1M753.3 285.7l3.7 -3.8" stroke="#000" stroke-width="2.3" stroke-linecap="round" fill="none"/>
<circle cx="753.3" cy="284.5" r="1.8"/>
<path d="M772.2 296.8L775.7 288.6" stroke="#000" stroke-width="2.2" stroke-linecap="round" fill="none"/>
<path d="M775.7 288.6l-2.8 -5.7M775.7 288.6l2.0 -5.4M775.7 288.6l5.6 -2.8" stroke="#000" stroke-width="2.3" stroke-linecap="round" fill="none"/>
<circle cx="776.2" cy="287.5" r="1.8"/>
<path d="M689.2 266.8L697.3 260.7" stroke="#000" stroke-width="2.2" stroke-linecap="round" fill="none"/>
<path d="M697.3 260.7l0.1 -6.6M697.3 260.7l4.9 -5.2M697.3 260.7l6.9 2.2" stroke="#000" stroke-width="2.3" stroke-linecap="round" fill="none"/>
<circle cx="698.2" cy="260.0" r="1.8"/>
<path d="M699.4 302.5L706.0 295.7" stroke="#000" stroke-width="2.2" stroke-linecap="round" fill="none"/>
<path d="M706.0 295.7l-2.3 -5.9M706.0 295.7l2.2 -5.4M706.0 295.7l4.7 -2.7M706.0 295.7l5.3 -0.4" stroke="#000" stroke-width="2.3" stroke-linecap="round" fill="none"/>
<circle cx="706.9" cy="294.8" r="1.8"/>
<path d="M740.5 320.7L742.5 314.9" stroke="#000" stroke-width="2.2" stroke-linecap="round" fill="none"/>
<path d="M742.5 314.9l-3.3 -6.4M742.5 314.9l0.4 -5.8M742.5 314.9l6.3 -2.0" stroke="#000" stroke-width="2.3" stroke-linecap="round" fill="none"/>
<circle cx="742.9" cy="313.8" r="1.8"/>
<path d="M774.6 323.9L774.1 312.0" stroke="#000" stroke-width="2.2" stroke-linecap="round" fill="none"/>
<path d="M774.1 312.0l-4.8 -2.3M774.1 312.0l-2.7 -6.6M774.1 312.0l0.7 -5.3M774.1 312.0l4.4 -4.5" stroke="#000" stroke-width="2.3" stroke-linecap="round" fill="none"/>
<circle cx="774.0" cy="310.8" r="1.8"/>
<path d="M650.6 298.6L657.7 288.1" stroke="#000" stroke-width="2.2" stroke-linecap="round" fill="none"/>
<path d="M657.7 288.1l-3.3 -6.1M657.7 288.1l2.0 -5.9M657.7 288.1l6.8 -1.4" stroke="#000" stroke-width="2.3" stroke-linecap="round" fill="none"/>
<circle cx="658.3" cy="287.1" r="1.8"/>
<path d="M663.3 314.9L669.0 306.2" stroke="#000" stroke-width="2.2" stroke-linecap="round" fill="none"/>
<path d="M669.0 306.2l-2.4 -5.6M669.0 306.2l3.1 -4.8M669.0 306.2l5.9 -0.9" stroke="#000" stroke-width="2.3" stroke-linecap="round" fill="none"/>
<circle cx="669.7" cy="305.2" r="1.8"/>
<path d="M712.7 363.3L714.5 353.8" stroke="#000" stroke-width="2.2" stroke-linecap="round" fill="none"/>
<path d="M714.5 353.8l-3.3 -4.0M714.5 353.8l-0.5 -7.4M714.5 353.8l3.1 -6.0M714.5 353.8l4.0 -3.3" stroke="#000" stroke-width="2.3" stroke-linecap="round" fill="none"/>
<circle cx="714.7" cy="352.7" r="1.8"/>
<path d="M747.8 356.6L748.2 348.9" stroke="#000" stroke-width="2.2" stroke-linecap="round" fill="none"/>
<path d="M748.2 348.9l-4.3 -3.1M748.2 348.9l-1.0 -6.1M748.2 348.9l1.5 -6.2M748.2 348.9l4.1 -3.5" stroke="#000" stroke-width="2.3" stroke-linecap="round" fill="none"/>
<circle cx="748.3" cy="347.7" r="1.8"/>
<path d="M620.1 365.0L624.3 354.3" stroke="#000" stroke-width="2.2" stroke-linecap="round" fill="none"/>
<path d="M624.3 354.3l-4.2 -4.5M624.3 354.3l1.8 -5.2M624.3 354.3l6.1 -3.1" stroke="#000" stroke-width="2.3" stroke-linecap="round" fill="none"/>
<circle cx="624.7" cy="353.2" r="1.8"/>
<path d="M641.0 384.6L647.0 370.6" stroke="#000" stroke-width="2.2" stroke-linecap="round" fill="none"/>
<path d="M647.0 370.6l-2.5 -6.1M647.0 370.6l2.3 -6.5M647.0 370.6l5.3 -2.8" stroke="#000" stroke-width="2.3" stroke-linecap="round" fill="none"/>
<circle cx="647.5" cy="369.5" r="1.8"/>
<path d="M572.9 331.8L573.7 325.1" stroke="#000" stroke-width="2.2" stroke-linecap="round" fill="none"/>
<path d="M573.7 325.1l-4.2 -4.6M573.7 325.1l-0.5 -6.7M573.7 325.1l5.3 -3.0" stroke="#000" stroke-width="2.3" stroke-linecap="round" fill="none"/>
<circle cx="573.8" cy="323.9" r="1.8"/>
<path d="M595.4 351.6L603.3 339.0" stroke="#000" stroke-width="2.2" stroke-linecap="round" fill="none"/>
<path d="M603.3 339.0l-2.1 -5.7M603.3 339.0l0.9 -5.9M603.3 339.0l4.1 -5.3M603.3 339.0l5.8 -1.3" stroke="#000" stroke-width="2.3" stroke-linecap="round" fill="none"/>
<circle cx="603.9" cy="338.0" r="1.8"/>
<path d="M620.1 365.0L625.0 355.6" stroke="#000" stroke-width="2.2" stroke-linecap="round" fill="none"/>
<path d="M625.0 355.6l-3.7 -5.4M625.0 355.6l0.6 -6.6M625.0 355.6l5.2 -4.2M625.0 355.6l5.3 -1.9" stroke="#000" stroke-width="2.3" stroke-linecap="round" fill="none"/>
<circle cx="625.6" cy="354.6" r="1.8"/>
<path d="M641.0 384.6L647.7 373.6" stroke="#000" stroke-width="2.2" stroke-linecap="round" fill="none"/>
<path d="M647.7 373.6l-2.3 -5.7M647.7 373.6l0.6 -7.3M647.7 373.6l3.4 -4.0M647.7 373.6l5.4 -1.3" stroke="#000" stroke-width="2.3" stroke-linecap="round" fill="none"/>
<circle cx="648.3" cy="372.5" r="1.8"/>
<path d="M527.5 377.0L531.6 368.9" stroke="#000" stroke-width="2.2" stroke-linecap="round" fill="none"/>
<path d="M531.6 368.9l-3.8 -5.0M531.6 368.9l2.7 -6.5M531.6 368.9l5.4 -2.7" stroke="#000" stroke-width="2.3" stroke-linecap="round" fill="none"/>
<circle cx="532.1" cy="367.8" r="1.8"/>
<path d="M555.7 394.2L558.6 385.5" stroke="#000" stroke-width="2.2" stroke-linecap="round" fill="none"/>
<path d="M558.6 385.5l-3.3 -5.3M558.6 385.5l0.0 -6.8M558.6 385.5l2.3 -4.7M558.6 385.5l5.3 -3.2" stroke="#000" stroke-width="2.3" stroke-linecap="round" fill="none"/>
<circle cx="559.0" cy="384.3" r="1.8"/>
<path d="M583.6 413.8L585.5 405.3" stroke="#000" stroke-width="2.2" stroke-linecap="round" fill="none"/>
<path d="M585.5 405.3l-4.1 -3.3M585.5 405.3l-0.8 -5.9M585.5 405.3l1.8 -5.4M585.5 405.3l4.1 -2.9" stroke="#000" stroke-width="2.3" stroke-linecap="round" fill="none"/>
<circle cx="585.7" cy="404.1" r="1.8"/>
<path d="M612.2 435.6L616.4 429.2" stroke="#000" stroke-width="2.2" stroke-linecap="round" fill="none"/>
<path d="M616.4 429.2l-2.8 -5.7M616.4 429.2l2.3 -6.7M616.4 429.2l5.0 -4.0M616.4 429.2l5.4 0.1" stroke="#000" stroke-width="2.3" stroke-linecap="round" fill="none"/>
<circle cx="617.0" cy="428.2" r="1.8"/>
<path d="M524.8 437.7L526.4 429.9" stroke="#000" stroke-width="2.2" stroke-linecap="round" fill="none"/>
<path d="M526.4 429.9l-4.0 -3.5M526.4 429.9l-0.4 -7.4M526.4 429.9l1.8 -5.7M526.4 429.9l4.6 -3.6" stroke="#000" stroke-width="2.3" stroke-linecap="round" fill="none"/>
<circle cx="526.6" cy="428.8" r="1.8"/>
<path d="M546.1 455.3L546.9 441.4" stroke="#000" stroke-width="2.2" stroke-linecap="round" fill="none"/>
<path d="M546.9 441.4l-5.0 -3.5M546.9 441.4l-3.1 -6.1M546.9 441.4l3.1 -5.8M546.9 441.4l4.6 -2.9" stroke="#000" stroke-width="2.3" stroke-linecap="round" fill="none"/>
<circle cx="547.0" cy="440.2" r="1.8"/>
<path d="M566.0 473.9L569.6 465.7" stroke="#000" stroke-width="2.2" stroke-linecap="round" fill="none"/>
<path d="M569.6 465.7l-3.2 -5.0M569.6 465.7l0.1 -6.7M569.6 465.7l3.8 -4.7M569.6 465.7l4.7 -1.7" stroke="#000" stroke-width="2.3" stroke-linecap="round" fill="none"/>
<circle cx="570.1" cy="464.6" r="1.8"/>
<path d="M591.5 495.4L596.2 482.1" stroke="#000" stroke-width="2.2" stroke-linecap="round" fill="none"/>
<path d="M596.2 482.1l-4.6 -5.3M596.2 482.1l1.6 -6.3M596.2 482.1l5.9 -1.8" stroke="#000" stroke-width="2.3" stroke-linecap="round" fill="none"/>
<circle cx="596.6" cy="481.0" r="1.8"/>
<path d="M691.9 415.8L689.8 403.4" stroke="#000" stroke-width="2.2" stroke-linecap="round" fill="none"/>
<path d="M689.8 403.4l-5.5 -2.3M689.8 403.4l-1.3 -6.2M689.8 403.4l4.1 -4.8" stroke="#000" stroke-width="2.3" stroke-linecap="round" fill="none"/>
<circle cx="689.6" cy="402.2" r="1.8"/>
<path d="M718.4 412.8L719.5 401.8" stroke="#000" stroke-width="2.2" stroke-linecap="round" fill="none"/>
<path d="M719.5 401.8l-4.5 -3.2M719.5 401.8l-2.0 -5.9M719.5 401.8l2.5 -5.9M719.5 401.8l4.5 -2.5" stroke="#000" stroke-width="2.3" stroke-linecap="round" fill="none"/>
<circle cx="719.6" cy="400.6" r="1.8"/>
<path d="M754.2 409.8L753.2 396.9" stroke="#000" stroke-width="2.2" stroke-linecap="round" fill="none"/>
<path d="M753.2 396.9l-6.0 -3.2M753.2 396.9l-1.3 -5.6M753.2 396.9l4.7 -5.5" stroke="#000" stroke-width="2.3" stroke-linecap="round" fill="none"/>
<circle cx="753.1" cy="395.7" r="1.8"/>
<path d="M785.3 406.8L788.6 398.1" stroke="#000" stroke-width="2.2" stroke-linecap="round" fill="none"/>
<path d="M788.6 398.1l-3.7 -6.4M788.6 398.1l1.1 -5.7M788.6 398.1l5.6 -2.7" stroke="#000" stroke-width="2.3" stroke-linecap="round" fill="none"/>
<circle cx="789.0" cy="397.0" r="1.8"/>
<path d="M679.7 476.8L679.2 464.1" stroke="#000" stroke-width="2.2" stroke-linecap="round" fill="none"/>
<path d="M679.2 464.1l-5.0 -4.1M679.2 464.1l-0.8 -6.5M679.2 464.1l5.3 -4.9" stroke="#000" stroke-width="2.3" stroke-linecap="round" fill="none"/>
<circle cx="679.2" cy="462.9" r="1.8"/>
<path d="M721.6 465.2L720.5 454.3" stroke="#000" stroke-width="2.2" stroke-linecap="round" fill="none"/>
<path d="M720.5 454.3l-4.9 -2.1M720.5 454.3l-4.4 -5.8M720.5 454.3l0.0 -6.3M720.5 454.3l3.8 -3.7" stroke="#000" stroke-width="2.3" stroke-linecap="round" fill="none"/>
<circle cx="720.4" cy="453.1" r="1.8"/>
<path d="M749.1 455.8L747.4 447.6" stroke="#000" stroke-width="2.2" stroke-linecap="round" fill="none"/>
<path d="M747.4 447.6l-5.4 -0.8M747.4 447.6l-3.3 -4.8M747.4 447.6l0.9 -5.5M747.4 447.6l2.5 -4.3" stroke="#000" stroke-width="2.3" stroke-linecap="round" fill="none"/>
<circle cx="747.1" cy="446.4" r="1.8"/>
<path d="M627.5 532.5L626.9 519.8" stroke="#000" stroke-width="2.2" stroke-linecap="round" fill="none"/>
<path d="M626.9 519.8l-5.1 -1.8M626.9 519.8l-2.8 -6.3M626.9 519.8l0.9 -5.2M626.9 519.8l4.0 -4.6" stroke="#000" stroke-width="2.3" stroke-linecap="round" fill="none"/>
<circle cx="626.8" cy="518.6" r="1.8"/>
<path d="M658.9 520.4L659.6 513.3" stroke="#000" stroke-width="2.2" stroke-linecap="round" fill="none"/>
<path d="M659.6 513.3l-4.5 -2.6M659.6 513.3l-2.0 -6.7M659.6 513.3l1.4 -5.4M659.6 513.3l4.7 -3.6" stroke="#000" stroke-width="2.3" stroke-linecap="round" fill="none"/>
<circle cx="659.8" cy="512.1" r="1.8"/>
<path d="M703.4 509.3L704.0 500.2" stroke="#000" stroke-width="2.2" stroke-linecap="round" fill="none"/>
<path d="M704.0 500.2l-5.6 -3.8M704.0 500.2l-3.0 -6.6M704.0 500.2l2.2 -5.1M704.0 500.2l4.9 -3.8" stroke="#000" stroke-width="2.3" stroke-linecap="round" fill="none"/>
<circle cx="704.1" cy="499.0" r="1.8"/>
<path d="M733.4 505.6L734.9 493.6" stroke="#000" stroke-width="2.2" stroke-linecap="round" fill="none"/>
<path d="M734.9 493.6l-5.1 -2.9M734.9 493.6l-1.6 -7.2M734.9 493.6l2.0 -5.7M734.9 493.6l5.5 -2.6" stroke="#000" stroke-width="2.3" stroke-linecap="round" fill="none"/>
<circle cx="735.1" cy="492.4" r="1.8"/>
<path d="M509.9 515.8L509.6 505.1" stroke="#000" stroke-width="2.2" stroke-linecap="round" fill="none"/>
<path d="M509.6 505.1l-5.5 -2.9M509.6 505.1l-3.4 -6.1M509.6 505.1l2.1 -5.8M509.6 505.1l4.2 -3.1" stroke="#000" stroke-width="2.3" stroke-linecap="round" fill="none"/>
<circle cx="509.6" cy="503.9" r="1.8"/>
<path d="M536.1 530.4L537.0 518.2" stroke="#000" stroke-width="2.2" stroke-linecap="round" fill="none"/>
<path d="M537.0 518.2l-4.8 -4.6M537.0 518.2l-2.1 -6.8M537.0 518.2l1.8 -6.4M537.0 518.2l4.7 -2.6" stroke="#000" stroke-width="2.3" stroke-linecap="round" fill="none"/>
<circle cx="537.1" cy="517.0" r="1.8"/>
<path d="M570.0 552.0L571.3 539.4" stroke="#000" stroke-width="2.2" stroke-linecap="round" fill="none"/>
<path d="M571.3 539.4l-5.4 -3.3M571.3 539.4l-0.1 -5.9M571.3 539.4l5.3 -3.2" stroke="#000" stroke-width="2.3" stroke-linecap="round" fill="none"/>
<circle cx="571.4" cy="538.2" r="1.8"/>
<path d="M617.9 593.5L616.5 580.4" stroke="#000" stroke-width="2.2" stroke-linecap="round" fill="none"/>
<path d="M616.5 580.4l-5.2 -2.7M616.5 580.4l-1.2 -6.5M616.5 580.4l4.9 -4.4" stroke="#000" stroke-width="2.3" stroke-linecap="round" fill="none"/>
<circle cx="616.4" cy="579.2" r="1.8"/>
<path d="M648.9 585.7L647.6 570.6" stroke="#000" stroke-width="2.2" stroke-linecap="round" fill="none"/>
<path d="M647.6 570.6l-5.0 -3.3M647.6 570.6l-2.6 -6.0M647.6 570.6l1.9 -5.8M647.6 570.6l4.5 -3.9" stroke="#000" stroke-width="2.3" stroke-linecap="round" fill="none"/>
<circle cx="647.5" cy="569.4" r="1.8"/>
<path d="M675.8 580.5L677.6 567.4" stroke="#000" stroke-width="2.2" stroke-linecap="round" fill="none"/>
<path d="M677.6 567.4l-4.4 -3.5M677.6 567.4l-1.1 -6.8M677.6 567.4l2.6 -6.0M677.6 567.4l4.6 -2.7" stroke="#000" stroke-width="2.3" stroke-linecap="round" fill="none"/>
<circle cx="677.8" cy="566.2" r="1.8"/>
<path d="M514.8 589.1L514.6 579.9" stroke="#000" stroke-width="2.2" stroke-linecap="round" fill="none"/>
<path d="M514.6 579.9l-5.2 -4.0M514.6 579.9l-2.3 -5.9M514.6 579.9l0.7 -6.0M514.6 579.9l3.9 -4.0" stroke="#000" stroke-width="2.3" stroke-linecap="round" fill="none"/>
<circle cx="514.6" cy="578.7" r="1.8"/>
<path d="M538.0 603.5L537.3 592.4" stroke="#000" stroke-width="2.2" stroke-linecap="round" fill="none"/>
<path d="M537.3 592.4l-5.3 -2.7M537.3 592.4l-2.3 -5.3M537.3 592.4l2.1 -5.6M537.3 592.4l4.3 -4.3" stroke="#000" stroke-width="2.3" stroke-linecap="round" fill="none"/>
<circle cx="537.3" cy="591.2" r="1.8"/>
<path d="M558.1 622.2L562.3 612.5" stroke="#000" stroke-width="2.2" stroke-linecap="round" fill="none"/>
<path d="M562.3 612.5l-3.7 -3.8M562.3 612.5l-0.7 -7.3M562.3 612.5l4.0 -5.2M562.3 612.5l5.4 -1.0" stroke="#000" stroke-width="2.3" stroke-linecap="round" fill="none"/>
<circle cx="562.8" cy="611.4" r="1.8"/>
<path d="M595.7 666.6L596.9 648.4" stroke="#000" stroke-width="2.2" stroke-linecap="round" fill="none"/>
<path d="M596.9 648.4l-4.7 -3.7M596.9 648.4l-0.3 -6.8M596.9 648.4l5.5 -3.6" stroke="#000" stroke-width="2.3" stroke-linecap="round" fill="none"/>
<circle cx="596.9" cy="647.2" r="1.8"/>
<path d="M628.7 648.5L627.4 637.9" stroke="#000" stroke-width="2.2" stroke-linecap="round" fill="none"/>
<path d="M627.4 637.9l-5.6 -1.5M627.4 637.9l-3.9 -4.9M627.4 637.9l1.4 -6.6M627.4 637.9l2.8 -4.3" stroke="#000" stroke-width="2.3" stroke-linecap="round" fill="none"/>
<circle cx="627.2" cy="636.7" r="1.8"/>
<path d="M661.4 638.6L660.6 623.9" stroke="#000" stroke-width="2.2" stroke-linecap="round" fill="none"/>
<path d="M660.6 623.9l-5.2 -3.7M660.6 623.9l-1.3 -6.4M660.6 623.9l3.9 -5.8" stroke="#000" stroke-width="2.3" stroke-linecap="round" fill="none"/>
<circle cx="660.5" cy="622.7" r="1.8"/>
<path d="M519.1 667.9L519.9 654.6" stroke="#000" stroke-width="2.2" stroke-linecap="round" fill="none"/>
<path d="M519.9 654.6l-4.8 -4.9M519.9 654.6l0.3 -6.6M519.9 654.6l4.8 -3.3" stroke="#000" stroke-width="2.3" stroke-linecap="round" fill="none"/>
<circle cx="520.0" cy="653.4" r="1.8"/>
<path d="M544.5 685.2L547.4 675.0" stroke="#000" stroke-width="2.2" stroke-linecap="round" fill="none"/>
<path d="M547.4 675.0l-4.3 -4.2M547.4 675.0l-1.4 -6.0M547.4 675.0l3.4 -5.1M547.4 675.0l5.6 -2.4" stroke="#000" stroke-width="2.3" stroke-linecap="round" fill="none"/>
<circle cx="547.7" cy="673.9" r="1.8"/>
<path d="M587.5 734.9L585.8 724.4" stroke="#000" stroke-width="2.2" stroke-linecap="round" fill="none"/>
<path d="M585.8 724.4l-5.0 -2.1M585.8 724.4l-2.6 -6.3M585.8 724.4l0.3 -5.5M585.8 724.4l4.3 -4.5" stroke="#000" stroke-width="2.3" stroke-linecap="round" fill="none"/>
<circle cx="585.6" cy="723.2" r="1.8"/>
<path d="M616.5 724.8L615.7 714.6" stroke="#000" stroke-width="2.2" stroke-linecap="round" fill="none"/>
<path d="M615.7 714.6l-6.8 -3.1M615.7 714.6l-0.2 -5.7M615.7 714.6l4.0 -5.7" stroke="#000" stroke-width="2.3" stroke-linecap="round" fill="none"/>
<circle cx="615.6" cy="713.4" r="1.8"/>
<path d="M525.1 728.9L526.6 719.4" stroke="#000" stroke-width="2.2" stroke-linecap="round" fill="none"/>
<path d="M526.6 719.4l-4.7 -3.5M526.6 719.4l-0.5 -6.7M526.6 719.4l2.6 -4.8M526.6 719.4l5.3 -2.9" stroke="#000" stroke-width="2.3" stroke-linecap="round" fill="none"/>
<circle cx="526.8" cy="718.2" r="1.8"/>
<path d="M544.6 743.3L547.1 735.6" stroke="#000" stroke-width="2.2" stroke-linecap="round" fill="none"/>
<path d="M547.1 735.6l-4.7 -5.1M547.1 735.6l2.6 -6.5M547.1 735.6l5.5 -3.7" stroke="#000" stroke-width="2.3" stroke-linecap="round" fill="none"/>
<circle cx="547.5" cy="734.5" r="1.8"/>
<path d="M580.8 778.3L579.9 770.4" stroke="#000" stroke-width="2.2" stroke-linecap="round" fill="none"/>
<path d="M579.9 770.4l-5.8 -2.5M579.9 770.4l-3.4 -4.8M579.9 770.4l0.0 -5.3M579.9 770.4l3.9 -4.1" stroke="#000" stroke-width="2.3" stroke-linecap="round" fill="none"/>
<circle cx="579.7" cy="769.2" r="1.8"/>
<path d="M603.2 772.3L604.0 763.8" stroke="#000" stroke-width="2.2" stroke-linecap="round" fill="none"/>
<path d="M604.0 763.8l-4.5 -3.2M604.0 763.8l-2.5 -5.6M604.0 763.8l1.4 -5.5M604.0 763.8l4.9 -2.9" stroke="#000" stroke-width="2.3" stroke-linecap="round" fill="none"/>
<circle cx="604.2" cy="762.6" r="1.8"/>
<path d="M532.5 791.1L532.5 781.8" stroke="#000" stroke-width="2.2" stroke-linecap="round" fill="none"/>
<path d="M532.5 781.8l-4.7 -4.6M532.5 781.8l0.0 -6.0M532.5 781.8l4.7 -4.8" stroke="#000" stroke-width="2.3" stroke-linecap="round" fill="none"/>
<circle cx="532.5" cy="780.6" r="1.8"/>
<path d="M545.6 801.0L546.1 792.4" stroke="#000" stroke-width="2.2" stroke-linecap="round" fill="none"/>
<path d="M546.1 792.4l-5.1 -2.7M546.1 792.4l-1.6 -5.6M546.1 792.4l1.2 -5.7M546.1 792.4l4.2 -3.5" stroke="#000" stroke-width="2.3" stroke-linecap="round" fill="none"/>
<circle cx="546.2" cy="791.2" r="1.8"/>
<path d="M784.5 231.0L786.2 219.4" stroke="#000" stroke-width="2.2" stroke-linecap="round" fill="none"/>
<path d="M786.2 219.4l-4.2 -4.2M786.2 219.4l1.0 -5.9M786.2 219.4l5.1 -5.1" stroke="#000" stroke-width="2.3" stroke-linecap="round" fill="none"/>
<circle cx="786.4" cy="218.2" r="1.8"/>
<path d="M787.6 349.8L790.2 342.1" stroke="#000" stroke-width="2.2" stroke-linecap="round" fill="none"/>
<path d="M790.2 342.1l-3.2 -5.1M790.2 342.1l-1.1 -6.7M790.2 342.1l3.3 -5.5M790.2 342.1l4.6 -2.2" stroke="#000" stroke-width="2.3" stroke-linecap="round" fill="none"/>
<circle cx="790.6" cy="341.0" r="1.8"/>
<path d="M709.5 570.0L716.1 563.8" stroke="#000" stroke-width="2.2" stroke-linecap="round" fill="none"/>
<path d="M716.1 563.8l-0.9 -6.4M716.1 563.8l2.8 -6.7M716.1 563.8l5.8 -2.2M716.1 563.8l5.9 1.2" stroke="#000" stroke-width="2.3" stroke-linecap="round" fill="none"/>
<circle cx="716.9" cy="562.9" r="1.8"/>
<path d="M696.5 622.5L702.2 616.9" stroke="#000" stroke-width="2.2" stroke-linecap="round" fill="none"/>
<path d="M702.2 616.9l-2.0 -5.1M702.2 616.9l3.0 -5.5M702.2 616.9l5.2 -4.0M702.2 616.9l6.0 1.6" stroke="#000" stroke-width="2.3" stroke-linecap="round" fill="none"/>
<circle cx="703.0" cy="616.0" r="1.8"/>
<path d="M992.3 593.7C991.0 592.9 987.1 590.4 984.7 588.8C982.3 587.2 980.0 586.2 977.7 584.0C975.4 581.8 973.6 579.2 970.7 575.6C967.8 572.0 963.8 566.2 960.3 562.4C956.8 558.6 953.3 555.4 949.8 552.6C946.3 549.8 942.9 547.1 939.4 545.7C935.9 544.3 932.1 543.8 928.9 544.3C925.6 544.8 921.4 547.7 919.9 548.4L919.9 548.4C921.4 548.3 926.0 547.2 928.9 547.7C931.8 548.2 934.0 549.0 937.3 551.2C940.5 553.4 944.6 557.0 948.4 561.0C952.2 565.0 956.6 570.5 960.3 574.9C964.0 579.3 968.5 585.1 970.7 587.4C972.9 589.7 973.0 588.6 973.5 588.8" fill="none" stroke="#000" stroke-width="2.5" stroke-linecap="round" stroke-linejoin="round"/>
<path d="M992.3 593.0C991.0 591.6 986.6 587.8 984.7 584.7C982.9 581.6 982.4 578.3 981.2 574.2C980.0 570.1 978.9 564.1 977.7 560.3C976.5 556.5 976.3 554.8 974.2 551.2C972.1 547.6 967.5 541.6 965.2 538.7C962.9 535.8 961.1 534.6 960.3 533.8L960.3 533.8C961.1 533.8 963.7 533.1 965.2 533.8C966.7 534.5 967.8 536.8 969.3 538.0C970.8 539.2 972.6 539.1 974.2 540.8C975.8 542.5 977.4 544.6 979.1 548.4C980.9 552.2 983.0 558.9 984.7 563.8C986.4 568.7 987.8 573.8 989.5 577.7C991.2 581.7 993.5 585.0 995.1 587.5C996.7 590.0 998.6 592.1 999.3 593.0" fill="none" stroke="#000" stroke-width="2.5" stroke-linecap="round" stroke-linejoin="round"/>
<path d="M998.6 592.3C998.2 589.4 996.7 579.5 996.5 575.0C996.3 570.5 996.8 569.2 997.5 565.0C998.2 560.8 999.0 555.2 1000.7 549.8C1002.4 544.4 1005.6 537.5 1007.6 532.4C1009.6 527.3 1011.7 521.4 1012.5 519.2L1012.5 519.2C1012.7 520.8 1014.1 525.0 1013.9 528.9C1013.7 532.8 1012.7 537.7 1011.1 542.9C1009.5 548.1 1005.5 554.5 1004.2 560.3C1002.9 566.1 1002.8 572.6 1003.5 577.7C1004.2 582.8 1007.5 588.8 1008.3 591.0L1008.3 591.0C1009.2 589.4 1012.7 585.7 1013.9 581.2C1015.1 576.7 1014.4 568.1 1015.3 563.8C1016.2 559.5 1017.9 557.6 1019.5 555.4C1021.1 553.2 1021.1 553.4 1025.0 550.5C1028.9 547.6 1037.1 541.4 1042.9 538.3C1048.7 535.2 1057.2 533.0 1060.0 532.0" fill="none" stroke="#000" stroke-width="2.5" stroke-linecap="round" stroke-linejoin="round"/>
<path d="M1060.0 532.3C1057.8 533.7 1051.5 537.2 1046.6 540.7C1041.7 544.2 1034.2 549.9 1030.6 553.0C1027.0 556.1 1026.4 557.6 1025.0 559.6C1023.6 561.6 1023.1 562.2 1022.3 565.2C1021.5 568.2 1020.7 572.7 1020.2 577.7C1019.7 582.7 1019.6 592.2 1019.5 595.1" fill="none" stroke="#000" stroke-width="2.5" stroke-linecap="round" stroke-linejoin="round"/>
<path d="M1024.4 591.2C1025.3 590.2 1026.2 588.5 1030.0 585.0C1033.8 581.5 1041.3 574.0 1047.0 570.0C1052.7 566.0 1058.2 563.1 1064.0 561.0C1069.8 558.9 1075.3 557.9 1082.0 557.5C1088.7 557.1 1100.6 558.3 1104.3 558.5L1104.3 558.6C1102.2 559.2 1098.0 561.1 1092.0 562.3C1086.0 563.4 1075.0 562.8 1068.0 565.5C1061.0 568.2 1055.8 573.8 1050.0 578.5C1044.2 583.2 1035.8 591.4 1033.0 594.0" fill="none" stroke="#000" stroke-width="2.5" stroke-linecap="round" stroke-linejoin="round"/>
<path d="M1035.0 592.0C1038.7 590.0 1049.3 582.9 1057.0 579.8C1064.7 576.7 1072.8 574.1 1081.0 573.2C1089.2 572.3 1101.8 574.3 1106.0 574.5L1106.0 575.0C1104.5 575.6 1100.5 578.0 1097.0 578.8C1093.5 579.5 1091.2 578.3 1085.0 579.5C1078.8 580.7 1068.2 582.8 1060.0 585.8C1051.8 588.8 1040.0 595.5 1036.0 597.5" fill="none" stroke="#000" stroke-width="2.5" stroke-linecap="round" stroke-linejoin="round"/>
<path d="M1035.0 597.2C1037.2 596.5 1042.9 594.3 1047.9 592.9C1052.9 591.5 1058.6 589.7 1065.0 588.6C1071.4 587.5 1079.8 586.5 1086.5 586.4C1093.2 586.3 1099.8 587.6 1105.0 588.2C1110.2 588.8 1113.4 589.5 1118.0 589.8C1122.6 590.1 1130.1 590.0 1132.5 590.1L1132.5 590.3C1130.4 590.8 1123.8 592.9 1120.0 593.5C1116.2 594.1 1113.5 594.2 1110.0 594.0C1106.5 593.8 1102.5 591.7 1099.3 592.0C1096.1 592.3 1095.1 594.7 1090.8 595.9C1086.5 597.1 1079.3 598.5 1073.6 599.3C1067.9 600.1 1061.7 600.7 1056.5 600.6C1051.3 600.5 1044.7 599.2 1042.3 598.9" fill="none" stroke="#000" stroke-width="2.5" stroke-linecap="round" stroke-linejoin="round"/>
<path d="M1042.3 598.9C1043.9 598.5 1047.5 597.4 1052.0 596.3C1056.5 595.2 1063.5 593.4 1069.3 592.4C1075.0 591.4 1081.5 590.6 1086.5 590.3C1091.5 590.0 1095.0 591.4 1099.3 590.7C1103.5 590.0 1107.6 588.1 1112.0 586.0C1116.4 583.9 1123.4 579.6 1125.7 578.3L1125.7 578.3C1124.4 579.8 1121.5 584.0 1118.0 587.0C1114.5 590.0 1109.5 593.9 1105.0 596.3C1100.5 598.7 1096.0 599.8 1090.8 601.5C1085.6 603.2 1079.3 605.6 1073.6 606.6C1067.9 607.6 1062.6 607.7 1056.5 607.5C1050.4 607.3 1040.2 605.7 1037.0 605.3" fill="none" stroke="#000" stroke-width="2.5" stroke-linecap="round" stroke-linejoin="round"/>
<path d="M973.6 589.3C970.6 588.8 961.3 587.8 955.6 586.4C949.9 585.0 944.7 581.9 939.2 580.7C933.7 579.5 928.3 578.7 922.8 579.0C917.3 579.3 911.3 580.2 906.4 582.3C901.5 584.3 895.6 589.3 893.3 591.3C891.0 593.3 892.9 593.8 892.8 594.3L892.8 594.3C895.1 593.1 901.1 588.9 906.4 587.2C911.7 585.5 918.9 583.9 924.4 583.9C929.9 583.9 934.0 585.8 939.2 587.2C944.4 588.6 948.0 590.7 955.6 592.1C963.2 593.5 980.2 595.2 985.1 595.8" fill="none" stroke="#000" stroke-width="2.5" stroke-linecap="round" stroke-linejoin="round"/>
<path d="M985.1 595.8C980.9 595.7 966.7 595.9 959.7 595.4C952.7 594.9 948.8 594.0 943.3 593.0C937.8 592.0 932.4 589.0 926.9 589.7C921.4 590.4 915.8 594.0 910.5 597.0C905.2 600.0 897.8 605.5 894.9 607.7C892.0 609.9 893.6 609.8 893.3 610.2L893.3 610.2C895.5 609.5 900.4 608.6 906.4 606.0C912.4 603.4 922.5 595.7 929.3 594.6C936.1 593.5 940.0 598.9 947.4 599.5C954.8 600.1 969.2 598.5 973.6 598.3" fill="none" stroke="#000" stroke-width="2.5" stroke-linecap="round" stroke-linejoin="round"/>
<path d="M990.0 601.1C985.6 601.4 970.9 600.9 963.8 602.8C956.7 604.7 954.2 608.5 947.4 612.6C940.6 616.7 929.4 622.5 922.8 627.4C916.2 632.3 910.6 639.1 908.0 642.1C905.4 645.1 907.3 644.9 907.2 645.4L907.2 645.4C909.8 643.2 916.1 636.8 922.8 632.3C929.5 627.8 940.6 622.4 947.4 618.4C954.2 614.4 958.7 610.8 963.8 608.5C968.9 606.2 973.5 605.5 978.0 604.5C982.5 603.5 988.8 602.8 991.0 602.5" fill="none" stroke="#000" stroke-width="2.5" stroke-linecap="round" stroke-linejoin="round"/>
<path d="M991.6 600.6C991.0 601.8 989.9 605.9 988.0 608.0C986.1 610.1 984.2 610.9 980.2 613.4C976.2 615.9 969.3 618.2 963.8 623.3C958.3 628.4 952.6 637.5 947.4 643.8C942.2 650.1 935.2 657.6 932.6 661.0C930.0 664.4 931.9 663.8 931.8 664.3L931.8 664.3C935.1 661.6 945.5 654.2 951.5 647.9C957.5 641.6 962.4 631.5 967.9 626.6C973.4 621.7 980.1 621.1 984.3 618.4C988.5 615.7 991.0 613.1 993.3 610.2C995.6 607.3 997.4 602.6 998.2 601.1" fill="none" stroke="#000" stroke-width="2.5" stroke-linecap="round" stroke-linejoin="round"/>
<path d="M997.7 602.2C998.2 604.8 999.1 612.2 1001.0 617.8C1002.9 623.4 1006.2 630.5 1009.2 635.8C1012.2 641.1 1016.3 645.4 1019.0 649.8C1021.7 654.2 1024.6 658.6 1025.6 662.0C1026.6 665.4 1024.9 668.8 1024.8 670.2L1024.8 670.2C1025.2 668.3 1027.1 662.3 1027.2 658.8C1027.3 655.3 1027.5 653.1 1025.6 649.0C1023.7 644.9 1018.6 639.4 1015.7 634.2C1012.8 629.0 1009.6 622.7 1008.4 617.8C1007.2 612.9 1007.0 606.8 1008.4 604.7C1009.8 602.7 1015.2 605.4 1016.6 605.5" fill="none" stroke="#000" stroke-width="2.5" stroke-linecap="round" stroke-linejoin="round"/>
<path d="M1016.6 605.5C1018.0 608.2 1022.5 615.8 1024.8 621.9C1027.1 628.0 1029.3 636.2 1030.5 642.4C1031.7 648.5 1032.1 653.8 1032.1 658.8C1032.1 663.8 1030.8 670.4 1030.5 672.7L1030.5 672.7C1031.3 670.1 1034.5 662.2 1035.4 657.1C1036.4 652.0 1036.9 647.6 1036.2 642.4C1035.5 637.2 1033.3 632.3 1031.3 626.0C1029.2 619.7 1025.1 608.2 1023.9 604.7" fill="none" stroke="#000" stroke-width="2.5" stroke-linecap="round" stroke-linejoin="round"/>
<path d="M1029.7 607.1C1030.4 607.8 1032.2 609.8 1033.8 611.2C1035.4 612.6 1038.5 614.6 1039.5 615.3" fill="none" stroke="#000" stroke-width="2.5" stroke-linecap="round" stroke-linejoin="round"/>
<path d="M1037.5 605.3C1039.4 606.4 1046.0 610.1 1048.9 612.2C1051.8 614.3 1052.8 615.3 1054.7 618.0C1056.6 620.7 1057.8 624.5 1060.4 628.3C1063.0 632.1 1066.9 637.1 1070.2 640.9C1073.5 644.7 1077.0 647.9 1080.0 651.0C1083.0 654.1 1086.7 658.3 1088.0 659.8L1088.0 659.8C1086.7 659.5 1082.7 659.3 1079.9 658.1C1077.1 656.9 1073.5 654.5 1071.3 652.4C1069.1 650.3 1069.0 648.6 1066.7 645.5C1064.4 642.4 1060.5 638.1 1057.5 634.0C1054.5 629.9 1051.8 623.9 1048.9 620.8C1046.0 617.6 1042.9 616.6 1040.3 615.1C1037.7 613.6 1035.1 613.0 1033.4 611.6C1031.7 610.2 1030.6 607.4 1030.0 606.5" fill="none" stroke="#000" stroke-width="2.5" stroke-linecap="round" stroke-linejoin="round"/>
<path d="M978.0 603.0C978.3 609.6 978.6 631.7 979.7 642.4C980.8 653.1 983.1 659.9 984.6 667.0C986.1 674.1 987.2 680.4 988.7 685.0C990.2 689.6 992.0 691.3 993.8 694.4C995.5 697.5 998.5 700.4 999.2 703.4C1000.0 706.4 997.7 709.5 998.3 712.5C998.9 715.5 1001.6 719.0 1002.8 721.5C1004.0 724.0 1005.0 726.8 1005.5 727.8" fill="none" stroke="#000" stroke-width="2.5" stroke-linecap="round" stroke-linejoin="round"/>
<path d="M1039.8 615.1C1040.1 617.5 1041.3 624.1 1041.5 629.4C1041.7 634.6 1041.6 640.9 1040.9 646.6C1040.2 652.3 1039.4 658.2 1037.5 663.8C1035.6 669.4 1031.6 675.6 1029.7 680.4C1027.8 685.2 1028.0 689.2 1026.2 692.6C1024.4 696.0 1020.0 697.4 1019.0 700.7C1018.0 704.0 1020.6 707.8 1020.0 712.5C1019.4 717.2 1016.2 726.0 1015.4 728.7" fill="none" stroke="#000" stroke-width="2.5" stroke-linecap="round" stroke-linejoin="round"/>
<path d="M1003.7 729.0C1003.7 732.8 1004.3 742.2 1003.7 752.0C1003.1 761.8 1000.8 777.0 1000.0 788.0C999.2 799.0 999.1 810.0 998.8 818.0C998.5 826.0 998.8 831.0 998.4 836.0C998.0 841.0 997.6 844.7 996.5 848.0C995.4 851.3 993.8 853.9 992.0 856.0C990.2 858.1 990.5 858.9 985.8 860.6C981.1 862.3 970.9 863.8 963.7 866.0C956.6 868.2 950.6 871.0 942.9 873.9C935.1 876.8 921.5 881.6 917.2 883.1" fill="none" stroke="#000" stroke-width="2.5" stroke-linecap="round" stroke-linejoin="round"/>
<path d="M1015.4 729.0C1015.2 732.9 1015.6 740.7 1014.5 752.1C1013.4 763.5 1010.0 785.2 1009.0 797.2C1008.0 809.2 1008.2 817.2 1008.2 824.3C1008.2 831.4 1008.6 835.4 1009.0 840.0C1009.4 844.6 1010.1 849.9 1010.3 851.9L1010.3 851.9C1014.4 851.4 1027.6 850.2 1034.8 848.8C1042.0 847.4 1047.0 845.4 1053.2 843.3C1059.4 841.1 1069.0 837.1 1072.2 835.9" fill="none" stroke="#000" stroke-width="2.5" stroke-linecap="round" stroke-linejoin="round"/>
<path d="M921.4 896.0C924.0 894.5 930.1 889.9 936.8 886.8C943.4 883.7 951.1 881.2 961.3 877.6C971.5 874.0 987.8 867.9 998.0 865.3C1008.2 862.6 1014.3 862.9 1022.5 861.7C1030.7 860.5 1040.9 859.2 1047.0 858.0C1053.1 856.8 1055.2 856.0 1059.3 854.3C1063.4 852.6 1068.3 849.5 1071.6 847.6C1074.9 845.7 1077.7 843.5 1078.9 842.7" fill="none" stroke="#000" stroke-width="2.5" stroke-linecap="round" stroke-linejoin="round"/>
</svg></body></html>
